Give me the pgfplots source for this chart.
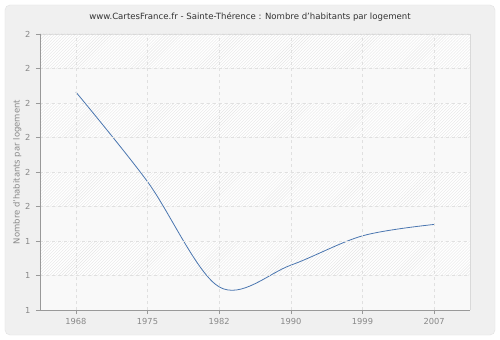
\documentclass[border=0pt]{standalone}
\usepackage{pgfplots}
\pgfplotsset{compat=1.18}
\usepackage{fontspec}
\setmainfont{DejaVu Sans}
\usetikzlibrary{patterns}
\definecolor{bgpanel}{HTML}{F0F0F0}
\definecolor{panelborder}{HTML}{E2E2E2}
\definecolor{gridc}{HTML}{E0E0E0}
\definecolor{axisc}{HTML}{999999}
\definecolor{labc}{HTML}{888888}
\definecolor{linec}{HTML}{4A76B0}
\definecolor{hatchc}{HTML}{E6E6E6}
\definecolor{bandc}{HTML}{F9F9F9}
% point relative to the lower left corner of the plot area, in bp
\newcommand\R[2]{([xshift=#1bp,yshift=#2bp]rel axis cs:0,0)}
\begin{document}
\begin{tikzpicture}
\begin{axis}[
  scale only axis, width=430bp, height=276bp,
  xmin=-0.5, xmax=5.5, ymin=1.2, ymax=2.0,
  xtick={0,1,2,3,4,5},
  xticklabels={1968,1975,1982,1990,1999,2007},
  ytick={1.2,1.3,1.4,1.5,1.6,1.7,1.8,1.9,2.0},
  yticklabels={1,1,1,2,2,2,2,2,2},
  xtick pos=left, ytick pos=left,
  axis line style={draw=none},
  tick style={axisc, thin},
  major tick length=4bp,
  tick align=outside,
  x tick label style={font=\fontsize{8.3}{10}\selectfont, text=labc, yshift=-1bp},
  y tick label style={font=\fontsize{8.3}{10}\selectfont, text=labc, xshift=-2bp},
  grid=major,
  major grid style={gridc, dashed, line width=0.6pt},
  ylabel={Nombre d'habitants par logement},
  ylabel style={font=\fontsize{8.5}{10}\selectfont, text=labc, yshift=-3bp},
  axis on top,
  clip=false,
]
\coordinate (O) at (rel axis cs:0,0);
\fill[white] \R{-40}{-30} rectangle \R{460}{310};
\fill[bgpanel,draw=panelborder,rounded corners=5bp] \R{-35}{-25} rectangle \R{455}{305};
\node[font=\fontsize{8.6}{10}\selectfont,text=black!80] at \R{210}{293} {www.CartesFrance.fr - Sainte-Thérence : Nombre d'habitants par logement};
\fill[white] \R{0}{0} rectangle \R{430}{276};
\fill[bandc] \R{0}{0} rectangle \R{430}{34.5};
\fill[pattern=north east lines, pattern color=hatchc] \R{0}{34.5} rectangle \R{430}{69};
\fill[bandc] \R{0}{69} rectangle \R{430}{103.5};
\fill[pattern=north east lines, pattern color=hatchc] \R{0}{103.5} rectangle \R{430}{138};
\fill[bandc] \R{0}{138} rectangle \R{430}{172.5};
\fill[pattern=north east lines, pattern color=hatchc] \R{0}{172.5} rectangle \R{430}{207};
\fill[bandc] \R{0}{207} rectangle \R{430}{241.5};
\fill[pattern=north east lines, pattern color=hatchc] \R{0}{241.5} rectangle \R{430}{276};
\draw[gray!30] \R{0}{276} -- \R{430}{276} -- \R{430}{0};
\addplot[linec, line width=0.8pt, smooth, tension=0.55] coordinates {
(0,1.832) (1,1.572) (2,1.267) (3,1.330) (4,1.415) (5,1.448)
};
\end{axis}
\draw[axisc, line width=0.7pt] ([yshift=276bp]O) -- (O) -- ([xshift=430bp]O);
\pgfresetboundingbox
\path[use as bounding box] ([xshift=-40bp,yshift=-30bp]O) rectangle ([xshift=460bp,yshift=310bp]O);
\end{tikzpicture}
\end{document}
